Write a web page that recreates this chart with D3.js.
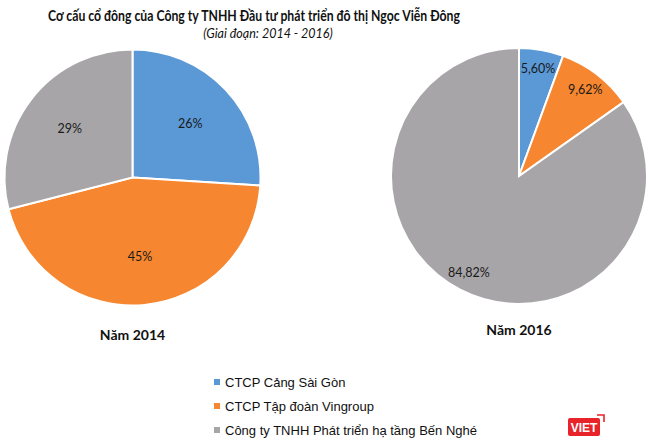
<!DOCTYPE html>
<html>
<head>
<meta charset="utf-8">
<script src="https://cdn.jsdelivr.net/npm/d3@7"></script>
<style>
  body { margin: 0; background: #fff; }
  svg { display: block; }
</style>
</head>
<body>
<svg id="chart" width="650" height="446"></svg>
<script>
// Data
const shareholders = ["CTCP Cảng Sài Gòn", "CTCP Tập đoàn Vingroup", "Công ty TNHH Phát triển hạ tầng Bến Nghé"];
const years = ["Năm 2014", "Năm 2016"];
const share2014 = [26, 45, 29];
const share2016 = [5.60, 9.62, 84.82];
const labels2014 = ["26%", "45%", "29%"];
const labels2016 = ["5,60%", "9,62%", "84,82%"];

const colors = d3.scaleOrdinal()
  .domain(shareholders)
  .range(["#5a98d6", "#f6862f", "#a7a5a8"]);

const svg = d3.select("#chart");

// Title
svg.append("text")
  .attr("x", 254).attr("y", 20.5)
  .attr("text-anchor", "middle")
  .attr("textLength", 412)
  .attr("lengthAdjust", "spacingAndGlyphs")
  .style("font-family", "Lato, sans-serif")
  .style("font-weight", "bold")
  .style("font-size", "15.5px")
  .attr("fill", "#111")
  .text("Cơ cấu cổ đông của Công ty TNHH Đầu tư phát triển đô thị Ngọc Viễn Đông");

svg.append("text")
  .attr("x", 268).attr("y", 38)
  .attr("text-anchor", "middle")
  .style("font-family", "Lato, sans-serif")
  .style("font-style", "italic")
  .style("font-size", "12.5px")
  .attr("fill", "#111")
  .text("(Giai đoạn: 2014 - 2016)");

// Pies
const pies = [
  { cx: 132.5, cy: 177.5, r: 128, values: share2014, labels: labels2014, lr: 0.62, year: years[0], yy: 340 },
  { cx: 519, cy: 176, r: 128, values: share2016, labels: labels2016, lr: 0.85, year: years[1], yy: 335 }
];

const pie = d3.pie().sort(null).value(d => d.v);

pies.forEach(p => {
  const g = svg.append("g").attr("transform", `translate(${p.cx},${p.cy})`);
  const arcs = pie(p.values.map((v, i) => ({ v, name: shareholders[i], label: p.labels[i] })));
  const arc = d3.arc().innerRadius(0).outerRadius(p.r);
  const labelArc = d3.arc().innerRadius(p.r * p.lr).outerRadius(p.r * p.lr);

  g.selectAll("path").data(arcs).join("path")
    .attr("d", arc)
    .attr("fill", d => colors(d.data.name))
    .attr("stroke", "#fff")
    .attr("stroke-width", 2);

  g.selectAll("text.lbl").data(arcs).join("text")
    .attr("class", "lbl")
    .attr("transform", d => `translate(${labelArc.centroid(d)})`)
    .attr("text-anchor", "middle")
    .attr("dy", "0.35em")
    .style("font-family", "Lato, sans-serif")
    .style("font-size", "12.5px")
    .attr("fill", "#1a1a1a")
    .text(d => d.data.label);

  svg.append("text")
    .attr("x", p.cx).attr("y", p.yy)
    .attr("text-anchor", "middle")
    .style("font-family", "Lato, sans-serif")
    .style("font-weight", "bold")
    .style("font-size", "14px")
    .attr("fill", "#111")
    .text(p.year);
});

// Legend
const legend = svg.append("g").attr("transform", "translate(214,382)");
const item = legend.selectAll("g").data(shareholders).join("g")
  .attr("transform", (d, i) => `translate(0,${i * 24})`);
item.append("rect")
  .attr("x", 0).attr("y", -3)
  .attr("width", 6).attr("height", 6)
  .attr("fill", d => colors(d));
item.append("text")
  .attr("x", 11).attr("y", 0).attr("dy", "0.36em")
  .style("font-family", "Liberation Sans, Arial, sans-serif")
  .style("font-size", "13px")
  .attr("fill", "#111")
  .text(d => d);

// VIET badge
const badge = svg.append("g").attr("transform", "translate(568,418)");
badge.append("rect")
  .attr("width", 32).attr("height", 18).attr("rx", 2)
  .attr("fill", "#e8232a");
badge.append("text")
  .attr("x", 16).attr("y", 13.5)
  .attr("text-anchor", "middle")
  .style("font-family", "Liberation Sans, Arial, sans-serif")
  .style("font-weight", "bold")
  .style("font-size", "12px")
  .attr("fill", "#fff")
  .text("VIET");
badge.append("path")
  .attr("d", "M29,-3 L36,-3 L36,4")
  .attr("fill", "none")
  .attr("stroke", "#e8232a")
  .attr("stroke-width", 1.6);
</script>
</body>
</html>
